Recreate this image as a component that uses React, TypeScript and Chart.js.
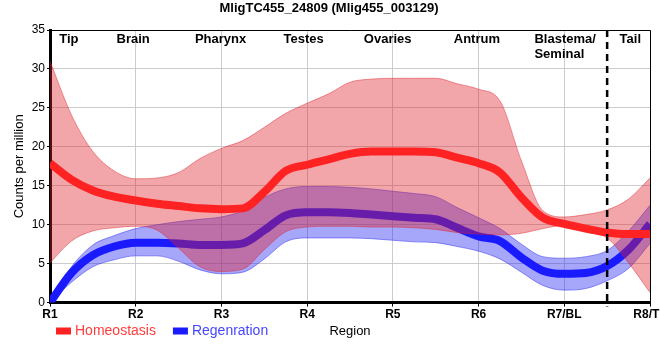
import React, { useEffect, useRef } from "react";
import { Chart, registerables } from "chart.js";

Chart.register(...registerables);

const FONT = "'Liberation Sans', Arial, sans-serif";

const chartTitle = "MligTC455_24809 (Mlig455_003129)";
const yAxisTitle = "Counts per million";
const xAxisTitle = "Region";
const seriesNames = ["Homeostasis", "Regenration"];

const xTickLabels = ["R1", "R2", "R3", "R4", "R5", "R6", "R7/BL", "R8/TL"];
const regionLabels = [["Tip"], ["Brain"], ["Pharynx"], ["Testes"], ["Ovaries"], ["Antrum"], ["Blastema/", "Seminal"], ["Tail"]];
const regionPositions = [0.22, 0.97, 1.99, 2.96, 3.94, 4.98, 6.01, 6.77];
const boundaryPosition = 6.5;

const positions = [0, 0.25, 0.5, 0.75, 1, 1.25, 1.5, 1.75, 2, 2.25, 2.5, 2.75, 3, 3.25, 3.5, 3.75, 4, 4.25, 4.5, 4.75, 5, 5.25, 5.5, 5.75, 6, 6.25, 6.5, 6.75, 7];

const homeoMean = [17.9, 15.8, 14.4, 13.6, 13.1, 12.7, 12.4, 12.1, 12.0, 12.1, 14.2, 16.9, 17.7, 18.4, 19.1, 19.4, 19.4, 19.4, 19.3, 18.6, 17.9, 16.7, 13.5, 10.9, 10.1, 9.5, 9.0, 8.8, 8.8];
const homeoUpper = [31.0, 24.1, 19.4, 16.9, 15.9, 16.0, 16.7, 18.5, 19.8, 20.8, 22.5, 24.3, 25.6, 26.8, 28.3, 28.7, 28.8, 28.8, 28.8, 28.1, 27.4, 25.9, 18.2, 11.8, 11.0, 11.3, 11.9, 13.3, 16.0];
const homeoLower = [5.1, 7.9, 9.2, 9.6, 9.8, 9.3, 7.0, 4.6, 4.0, 4.3, 6.8, 9.1, 9.7, 9.8, 9.8, 9.7, 9.7, 9.6, 9.4, 9.0, 8.8, 8.7, 8.9, 9.5, 9.9, 9.1, 8.3, 5.1, 1.3];

const regenMean = [0.0, 3.8, 6.1, 7.2, 7.7, 7.7, 7.6, 7.4, 7.4, 7.6, 9.3, 11.2, 11.6, 11.6, 11.5, 11.3, 11.1, 10.9, 10.7, 9.6, 8.5, 7.9, 5.8, 4.1, 3.7, 3.8, 4.7, 6.8, 10.1];
const regenUpper = [0.3, 4.6, 7.4, 8.6, 9.5, 10.0, 10.4, 10.7, 11.0, 11.8, 13.5, 14.6, 14.9, 14.9, 14.8, 14.6, 14.3, 14.0, 13.6, 12.2, 10.9, 9.5, 7.5, 5.9, 5.7, 5.9, 6.7, 9.2, 12.5];
const regenLower = [0.0, 2.6, 4.6, 5.5, 6.0, 6.0, 5.3, 4.2, 3.7, 3.9, 5.6, 7.8, 8.3, 8.3, 8.3, 8.2, 8.0, 7.8, 7.7, 7.2, 6.6, 5.6, 3.9, 2.2, 1.6, 1.8, 2.8, 4.4, 7.6];

const RED = "#ff2222";
const BLUE = "#1a1aff";
const RED_BAND = "rgba(222, 32, 42, 0.4)";
const RED_EDGE = "rgba(222, 32, 42, 0.45)";
const BLUE_BAND = "rgba(32, 32, 242, 0.4)";
const BLUE_EDGE = "rgba(32, 32, 242, 0.45)";
const legendColors = [RED, BLUE];
const legendTextColors = ["#ff3c3c", "#4646ff"];

const toPoints = (ys: number[]) => positions.map((x, i) => ({ x, y: ys[i] }));

const overlayPlugin = {
  id: "overlay",
  afterDatasetsDraw(chart: any) {
    const { ctx, chartArea: a, scales } = chart;
    const x = scales.x;
    ctx.save();
    ctx.strokeStyle = "#000";
    ctx.lineWidth = 1;
    ctx.beginPath();
    ctx.moveTo(a.left, Math.round(a.top) + 0.5);
    ctx.lineTo(Math.round(a.right) + 0.5, Math.round(a.top) + 0.5);
    ctx.lineTo(Math.round(a.right) + 0.5, a.bottom);
    ctx.stroke();
    const bx = x.getPixelForValue(boundaryPosition);
    ctx.setLineDash([7, 5]);
    ctx.lineWidth = 2.5;
    ctx.beginPath();
    ctx.moveTo(bx, a.top);
    ctx.lineTo(bx, a.bottom + 4);
    ctx.stroke();
    ctx.setLineDash([]);
    ctx.font = `bold 13px ${FONT}`;
    ctx.fillStyle = "#000";
    ctx.textBaseline = "middle";
    ctx.textAlign = "left";
    regionLabels.forEach((lines, i) => {
      const cx = x.getPixelForValue(regionPositions[i]);
      const w = Math.max(...lines.map((l) => ctx.measureText(l).width));
      lines.forEach((l, j) => ctx.fillText(l, cx - w / 2, a.top + 9 + j * 15));
    });
    ctx.restore();
  },
  afterDraw(chart: any) {
    const { ctx, chartArea: a } = chart;
    ctx.save();
    const y = 331;
    let lx = a.left + 6;
    ctx.textBaseline = "middle";
    ctx.textAlign = "left";
    ctx.font = `14px ${FONT}`;
    seriesNames.forEach((name, i) => {
      ctx.fillStyle = legendColors[i];
      ctx.fillRect(lx, y - 3.5, 15, 7);
      ctx.fillStyle = legendTextColors[i];
      ctx.fillText(name, lx + 19, y);
      lx += 19 + ctx.measureText(name).width + 17;
    });
    ctx.font = `13px ${FONT}`;
    ctx.fillStyle = "#000";
    ctx.textAlign = "center";
    ctx.fillText(xAxisTitle, (a.left + a.right) / 2, y);
    ctx.restore();
  },
};

export default function App() {
  const canvasRef = useRef<HTMLCanvasElement | null>(null);

  useEffect(() => {
    document.body.style.margin = "0";
    const canvas = canvasRef.current;
    if (!canvas) return;
    const lineCommon = {
      pointRadius: 0,
      cubicInterpolationMode: "monotone" as const,
    };
    const chart = new Chart(canvas, {
      type: "line",
      data: {
        datasets: [
          { ...lineCommon, label: seriesNames[0], data: toPoints(homeoMean), borderColor: RED, borderWidth: 8, fill: false, order: 0 },
          { ...lineCommon, label: "homeoUpper", data: toPoints(homeoUpper), borderColor: RED_EDGE, borderWidth: 1, backgroundColor: RED_BAND, fill: "+1", order: 1 },
          { ...lineCommon, label: "homeoLower", data: toPoints(homeoLower), borderColor: RED_EDGE, borderWidth: 1, fill: false, order: 2 },
          { ...lineCommon, label: seriesNames[1], data: toPoints(regenMean), borderColor: BLUE, borderWidth: 8, fill: false, order: 3 },
          { ...lineCommon, label: "regenUpper", data: toPoints(regenUpper), borderColor: BLUE_EDGE, borderWidth: 1, backgroundColor: BLUE_BAND, fill: "+1", order: 4 },
          { ...lineCommon, label: "regenLower", data: toPoints(regenLower), borderColor: BLUE_EDGE, borderWidth: 1, fill: false, order: 5 },
        ],
      },
      options: {
        animation: false,
        responsive: true,
        maintainAspectRatio: false,
        events: [],
        layout: { padding: { top: 0, left: 8, right: 10, bottom: 37 } },
        plugins: {
          legend: { display: false },
          tooltip: { enabled: false },
          title: {
            display: true,
            text: chartTitle,
            color: "#000",
            font: { family: FONT, size: 13, weight: "bold" },
            padding: { top: 1, bottom: 13.4 },
          },
        },
        scales: {
          x: {
            type: "linear",
            min: 0,
            max: 7,
            afterFit: (scale: any) => {
              scale.paddingRight = 0;
              scale.paddingLeft = 0;
            },
            ticks: {
              stepSize: 1,
              autoSkip: false,
              maxRotation: 0,
              padding: 1,
              color: "#000",
              font: { family: FONT, size: 12, weight: "bold" },
              callback: (v: any) => xTickLabels[Math.round(Number(v))] ?? "",
            },
            grid: { color: "#cccccc", lineWidth: 1, tickLength: 4, tickColor: "#000" },
            border: { color: "#000", width: 3 },
          },
          y: {
            min: 0,
            max: 35,
            afterFit: (scale: any) => {
              scale.width = 42;
            },
            ticks: {
              stepSize: 5,
              padding: 2,
              color: "#000",
              font: { family: FONT, size: 12 },
            },
            grid: { color: "#cccccc", lineWidth: 1, tickLength: 3, tickColor: "#000" },
            border: { color: "#000", width: 3 },
            title: {
              display: true,
              text: yAxisTitle,
              color: "#000",
              font: { family: FONT, size: 13 },
              padding: { top: 4, bottom: 0 },
            },
          },
        },
      },
      plugins: [overlayPlugin],
    });
    return () => chart.destroy();
  }, []);

  return (
    <div style={{ width: 660, height: 360, position: "relative" }}>
      <canvas ref={canvasRef} />
    </div>
  );
}
